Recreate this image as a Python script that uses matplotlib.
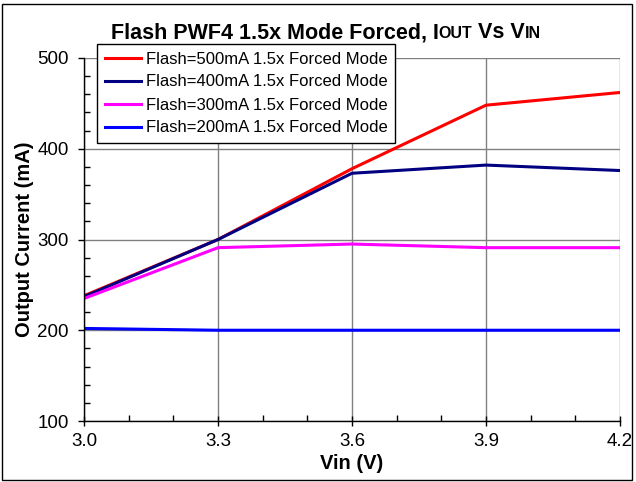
import matplotlib
matplotlib.use("Agg")
import matplotlib.pyplot as plt
from matplotlib.ticker import MultipleLocator, FormatStrFormatter
from matplotlib.offsetbox import TextArea, HPacker, AnchoredOffsetbox
from matplotlib.patches import Rectangle

plt.rcParams['font.family'] = ['Liberation Sans', 'DejaVu Sans']

vin = [3.0, 3.3, 3.6, 3.9, 4.2]
i500 = [238, 300, 378, 448, 462]
i400 = [237, 300, 373, 382, 376]
i300 = [235, 291, 295, 291, 291]
i200 = [202, 200, 200, 200, 200]
labels = ["Flash=500mA 1.5x Forced Mode", "Flash=400mA 1.5x Forced Mode",
          "Flash=300mA 1.5x Forced Mode", "Flash=200mA 1.5x Forced Mode"]
colors = ["#ff0000", "#000080", "#ff00ff", "#0000ff"]
xticks = [3.0, 3.3, 3.6, 3.9, 4.2]
yticks = [100, 200, 300, 400, 500]

fig = plt.figure(figsize=(6.36, 4.82), dpi=100)
ax = fig.add_axes([84/636, 1-421/482, (620-84)/636, (421-58)/482])

for y, lab, c in zip([i500, i400, i300, i200], labels, colors):
    ax.plot(vin, y, color=c, lw=2.2, label=lab, solid_joinstyle='miter')

ax.set_xlim(3.0, 4.2)
ax.set_ylim(100, 500)
ax.set_xticks(xticks)
ax.set_yticks(yticks)
ax.xaxis.set_minor_locator(MultipleLocator(0.1))
ax.yaxis.set_minor_locator(MultipleLocator(20))
ax.xaxis.set_major_formatter(FormatStrFormatter('%.1f'))
ax.grid(True, which='major', color='#808080', lw=1)
ax.set_axisbelow(True)
for s in ['top', 'right']:
    ax.spines[s].set_visible(False)
for s in ['left', 'bottom']:
    ax.spines[s].set_color('black')
    ax.spines[s].set_linewidth(1)
ax.tick_params(axis='y', which='major', direction='out', length=4, width=1, labelsize=13.5, pad=7)
ax.tick_params(axis='y', which='minor', direction='in', length=4, width=1)
ax.tick_params(axis='x', which='major', direction='inout', length=7, width=1, labelsize=13.5, pad=5)
ax.tick_params(axis='x', which='minor', direction='in', length=4, width=1)

ax.set_xlabel("Vin (V)", fontsize=14.5, fontweight='bold', labelpad=3)
ax.set_ylabel("Output Current (mA)", fontsize=14.5, fontweight='bold', labelpad=2)

leg = ax.legend(loc='upper left', bbox_to_anchor=((97-84)/536, 1 + (58-44)/363),
                fontsize=12, frameon=True, fancybox=False, edgecolor='black',
                framealpha=1, borderpad=0.45, labelspacing=0.48, handlelength=2.2,
                handletextpad=0.3, borderaxespad=0)
leg.get_frame().set_linewidth(1)

# title with small caps segments
big = dict(fontsize=15.5, fontweight='bold')
small = dict(fontsize=11.5, fontweight='bold')
parts = [("Flash PWF4 1.5x Mode Forced, I", big), ("OUT", small), (" Vs V", big), ("IN", small)]
children = [TextArea(t, textprops=p) for t, p in parts]
box = HPacker(children=children, align="baseline", pad=0, sep=0)
ab = AnchoredOffsetbox(loc='center', child=box, frameon=False,
                       bbox_to_anchor=(326/636, 1-33/482), bbox_transform=fig.transFigure,
                       borderpad=0, pad=0)
fig.add_artist(ab)

fig.add_artist(Rectangle((2/636, 2/482), 630/636, 476/482, transform=fig.transFigure,
                         fill=False, edgecolor='black', lw=1))

fig.savefig("out.png", dpi=100)
